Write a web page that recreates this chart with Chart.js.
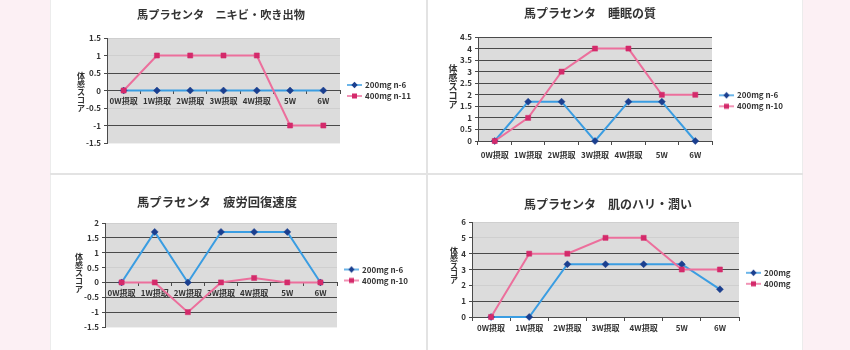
<!DOCTYPE html>
<html>
<head>
<meta charset="utf-8">
<script src="https://cdn.jsdelivr.net/npm/chart.js@4/dist/chart.umd.min.js"></script>
<style>
html,body{margin:0;padding:0;}
body{width:850px;height:350px;background:#fcf0f4;position:relative;overflow:hidden;font-family:"Noto Sans CJK JP",sans-serif;}
#panel{position:absolute;left:50px;top:0;width:753px;height:350px;background:#fff;border-left:1px solid #ececec;border-right:1px solid #ececec;box-sizing:border-box;}
.vline{position:absolute;left:426px;top:0;width:2px;height:350px;background:#e3e3e3;}
.hline{position:absolute;left:50px;top:173px;width:753px;height:2px;background:#e3e3e3;}
canvas{position:absolute;}
</style>
</head>
<body>
<div id="panel"></div>
<div class="vline"></div>
<div class="hline"></div>
<canvas id="c1" width="376" height="173" style="left:50px;top:0px"></canvas>
<canvas id="c2" width="375" height="173" style="left:428px;top:0px"></canvas>
<canvas id="c3" width="376" height="175" style="left:50px;top:175px"></canvas>
<canvas id="c4" width="375" height="175" style="left:428px;top:175px"></canvas>
<script>
// ---------- data ----------
const categories = ['0W摂取','1W摂取','2W摂取','3W摂取','4W摂取','5W','6W'];
const yAxisTitle = '体感スコア';

const acneTitle = '馬プラセンタ　ニキビ・吹き出物';
const acneNames = ['200mg n-6','400mg n-11'];
const acne200 = [0,0,0,0,0,0,0];
const acne400 = [0,1,1,1,1,-1,-1];
const acneTicks = [-1.5,-1,-0.5,0,0.5,1,1.5];

const sleepTitle = '馬プラセンタ　睡眠の質';
const sleepNames = ['200mg n-6','400mg n-10'];
const sleep200 = [0,1.7,1.7,0,1.7,1.7,0];
const sleep400 = [0,1,3,4,4,2,2];
const sleepTicks = [0,0.5,1,1.5,2,2.5,3,3.5,4,4.5];

const fatigueTitle = '馬プラセンタ　疲労回復速度';
const fatigueNames = ['200mg n-6','400mg n-10'];
const fatigue200 = [0,1.7,0,1.7,1.7,1.7,0];
const fatigue400 = [0,0,-1,0,0.15,0,0];
const fatigueTicks = [-1.5,-1,-0.5,0,0.5,1,1.5,2];

const skinTitle = '馬プラセンタ　肌のハリ・潤い';
const skinNames = ['200mg','400mg'];
const skin200 = [0,0,3.33,3.33,3.33,3.33,1.75];
const skin400 = [0,4,4,5,5,3,3];
const skinTicks = [0,1,2,3,4,5,6];

// ---------- styles ----------
const DARK = '#4a4a4a';
const FAINT = 'rgba(0,0,0,0.06)';
const BLUE_LINE = '#3a9de2', BLUE_MARK = '#1b3f8f';
const PINK_LINE = '#ec6f9c', PINK_MARK = '#d42a6b';
const TEXT = '#333333';
const FONT = '"Noto Sans CJK JP", "Noto Sans", sans-serif';

function makeIcon(lineColor, markColor, shape){
  const c = document.createElement('canvas');
  c.width = 30; c.height = 8;
  const g = c.getContext('2d');
  g.strokeStyle = lineColor; g.lineWidth = 1.5;
  g.beginPath(); g.moveTo(10,4); g.lineTo(25,4); g.stroke();
  g.fillStyle = markColor;
  if (shape === 'rectRot'){
    g.beginPath(); g.moveTo(17.5,0.8); g.lineTo(20.7,4); g.lineTo(17.5,7.2); g.lineTo(14.3,4); g.closePath(); g.fill();
  } else {
    g.fillRect(15,1.5,5,5);
  }
  return c;
}
const icons = [makeIcon(BLUE_LINE, BLUE_MARK, 'rectRot'), makeIcon(PINK_LINE, PINK_MARK, 'rect')];

const plotBg = {
  id: 'plotBg',
  beforeDraw(chart, args, o){
    const {ctx, chartArea:a} = chart;
    ctx.save();
    ctx.fillStyle = o.color;
    ctx.fillRect(a.left, a.top, a.right - a.left, a.bottom - a.top);
    ctx.restore();
  }
};

const captions = {
  id: 'captions',
  afterDraw(chart, args, o){
    const ctx = chart.ctx;
    ctx.save();
    ctx.fillStyle = TEXT;
    ctx.textAlign = 'center';
    ctx.textBaseline = 'middle';
    ctx.font = 'bold ' + o.titleSize + 'px ' + FONT;
    ctx.fillText(o.title, o.titleX, o.titleY);
    ctx.font = 'bold ' + o.ySize + 'px ' + FONT;
    const chars = Array.from(o.yTitle);
    chars.forEach((ch, i) => {
      ctx.fillText(ch, o.yTitleX, o.yTitleY + (i - (chars.length - 1) / 2) * o.yStep);
    });
    ctx.restore();
  }
};

function fitArea(chart, target, pad){
  for (let k = 0; k < 4; k++){
    const a = chart.chartArea;
    const dl = target.left - a.left, dt = target.top - a.top;
    const dr = a.right - target.right, db = a.bottom - target.bottom;
    if (Math.abs(dl) + Math.abs(dt) + Math.abs(dr) + Math.abs(db) < 0.3) break;
    pad.left += dl; pad.top += dt; pad.right += dr; pad.bottom += db;
    chart.config.options.layout.padding = {left: pad.left, top: pad.top, right: pad.right, bottom: pad.bottom};
    chart.update('none');
  }
}

function buildChart(id, cfg){
  const pad = {left: 20, top: 20, right: 10, bottom: 10};
  const tickFont = {family: FONT, size: 8, weight: 'bold'};
  const chart = new Chart(document.getElementById(id), {
    type: 'line',
    data: {
      labels: categories,
      datasets: [
        {label: cfg.names[0], data: cfg.s200, borderColor: BLUE_LINE, backgroundColor: BLUE_MARK,
         borderWidth: 2, tension: 0, pointStyle: 'rectRot', pointRadius: 3.5,
         pointBackgroundColor: BLUE_MARK, pointBorderColor: BLUE_MARK, pointBorderWidth: 0.5,
         order: 1, clip: false},
        {label: cfg.names[1], data: cfg.s400, borderColor: PINK_LINE, backgroundColor: PINK_MARK,
         borderWidth: 2, tension: 0, pointStyle: 'rect', pointRadius: 3.6,
         pointBackgroundColor: PINK_MARK, pointBorderColor: PINK_MARK, pointBorderWidth: 0.5,
         order: 0, clip: false}
      ]
    },
    options: {
      responsive: false,
      animation: false,
      events: [],
      layout: {padding: {left: pad.left, top: pad.top, right: pad.right, bottom: pad.bottom}},
      scales: {
        x: {
          type: 'category',
          position: cfg.zeroAxis ? {y: 0} : 'bottom',
          offset: true,
          grid: {display: true, drawOnChartArea: false, drawTicks: true, tickLength: cfg.xTickLen,
                 offset: true, color: DARK, tickColor: DARK},
          border: {display: true, color: DARK, width: 1},
          ticks: {font: tickFont, color: TEXT, padding: cfg.xTickPad, maxRotation: 0, autoSkip: false}
        },
        y: {
          position: 'left',
          min: cfg.ticks[0],
          max: cfg.ticks[cfg.ticks.length - 1],
          afterBuildTicks: s => { s.ticks = cfg.ticks.map(v => ({value: v})); },
          grid: {
            color: c => (c.tick && cfg.darkGrid.includes(c.tick.value)) ? DARK : FAINT,
            tickColor: DARK, tickLength: 3, drawTicks: true
          },
          border: {display: true, color: DARK, width: 1},
          ticks: {font: tickFont, color: TEXT, padding: 3, autoSkip: false, callback: v => String(v)}
        }
      },
      plugins: {
        legend: {
          position: 'right',
          align: 'center',
          labels: {
            usePointStyle: true, pointStyleWidth: 18, boxHeight: 8, padding: 3,
            font: tickFont, color: TEXT,
            generateLabels: ch => ch.data.datasets.map((d, i) => ({
              text: d.label, pointStyle: icons[i], datasetIndex: i, hidden: false,
              lineWidth: 0, fillStyle: 'rgba(0,0,0,0)', strokeStyle: 'rgba(0,0,0,0)', fontColor: TEXT
            }))
          }
        },
        tooltip: {enabled: false},
        title: {display: false},
        plotBg: {color: '#dcdcdc'},
        captions: {
          title: cfg.title, titleX: cfg.titleX, titleY: cfg.titleY, titleSize: cfg.titleSize,
          yTitle: yAxisTitle, yTitleX: cfg.yTitleX, yTitleY: cfg.yTitleY, ySize: cfg.ySize, yStep: cfg.yStep
        }
      }
    },
    plugins: [plotBg, captions]
  });
  fitArea(chart, cfg.area, pad);
  return chart;
}

buildChart('c1', {
  title: acneTitle, names: acneNames, s200: acne200, s400: acne400, ticks: acneTicks,
  darkGrid: [0.5, 0, -1], zeroAxis: true, xTickLen: 3, xTickPad: 3,
  area: {left: 57, top: 38, right: 290, bottom: 143},
  titleX: 171, titleY: 15, titleSize: 11.2,
  yTitleX: 31, yTitleY: 92, ySize: 8, yStep: 8.2
});
buildChart('c2', {
  title: sleepTitle, names: sleepNames, s200: sleep200, s400: sleep400, ticks: sleepTicks,
  darkGrid: sleepTicks, zeroAxis: false, xTickLen: 4, xTickPad: 5,
  area: {left: 50, top: 37, right: 284, bottom: 141},
  titleX: 162, titleY: 13, titleSize: 12,
  yTitleX: 25, yTitleY: 86.5, ySize: 9, yStep: 9.2
});
buildChart('c3', {
  title: fatigueTitle, names: fatigueNames, s200: fatigue200, s400: fatigue400, ticks: fatigueTicks,
  darkGrid: [1.5, 1, 0, -0.5, -1], zeroAxis: true, xTickLen: 3, xTickPad: 3,
  area: {left: 55, top: 48, right: 287, bottom: 152},
  titleX: 167, titleY: 27, titleSize: 12.3,
  yTitleX: 29, yTitleY: 97.5, ySize: 8, yStep: 8
});
buildChart('c4', {
  title: skinTitle, names: skinNames, s200: skin200, s400: skin400, ticks: skinTicks,
  darkGrid: [4, 3, 1, 0], zeroAxis: false, xTickLen: 4, xTickPad: 2,
  area: {left: 44, top: 47, right: 311, bottom: 142},
  titleX: 180, titleY: 29, titleSize: 12,
  yTitleX: 26, yTitleY: 90.5, ySize: 8, yStep: 7.4
});
</script>
</body>
</html>
